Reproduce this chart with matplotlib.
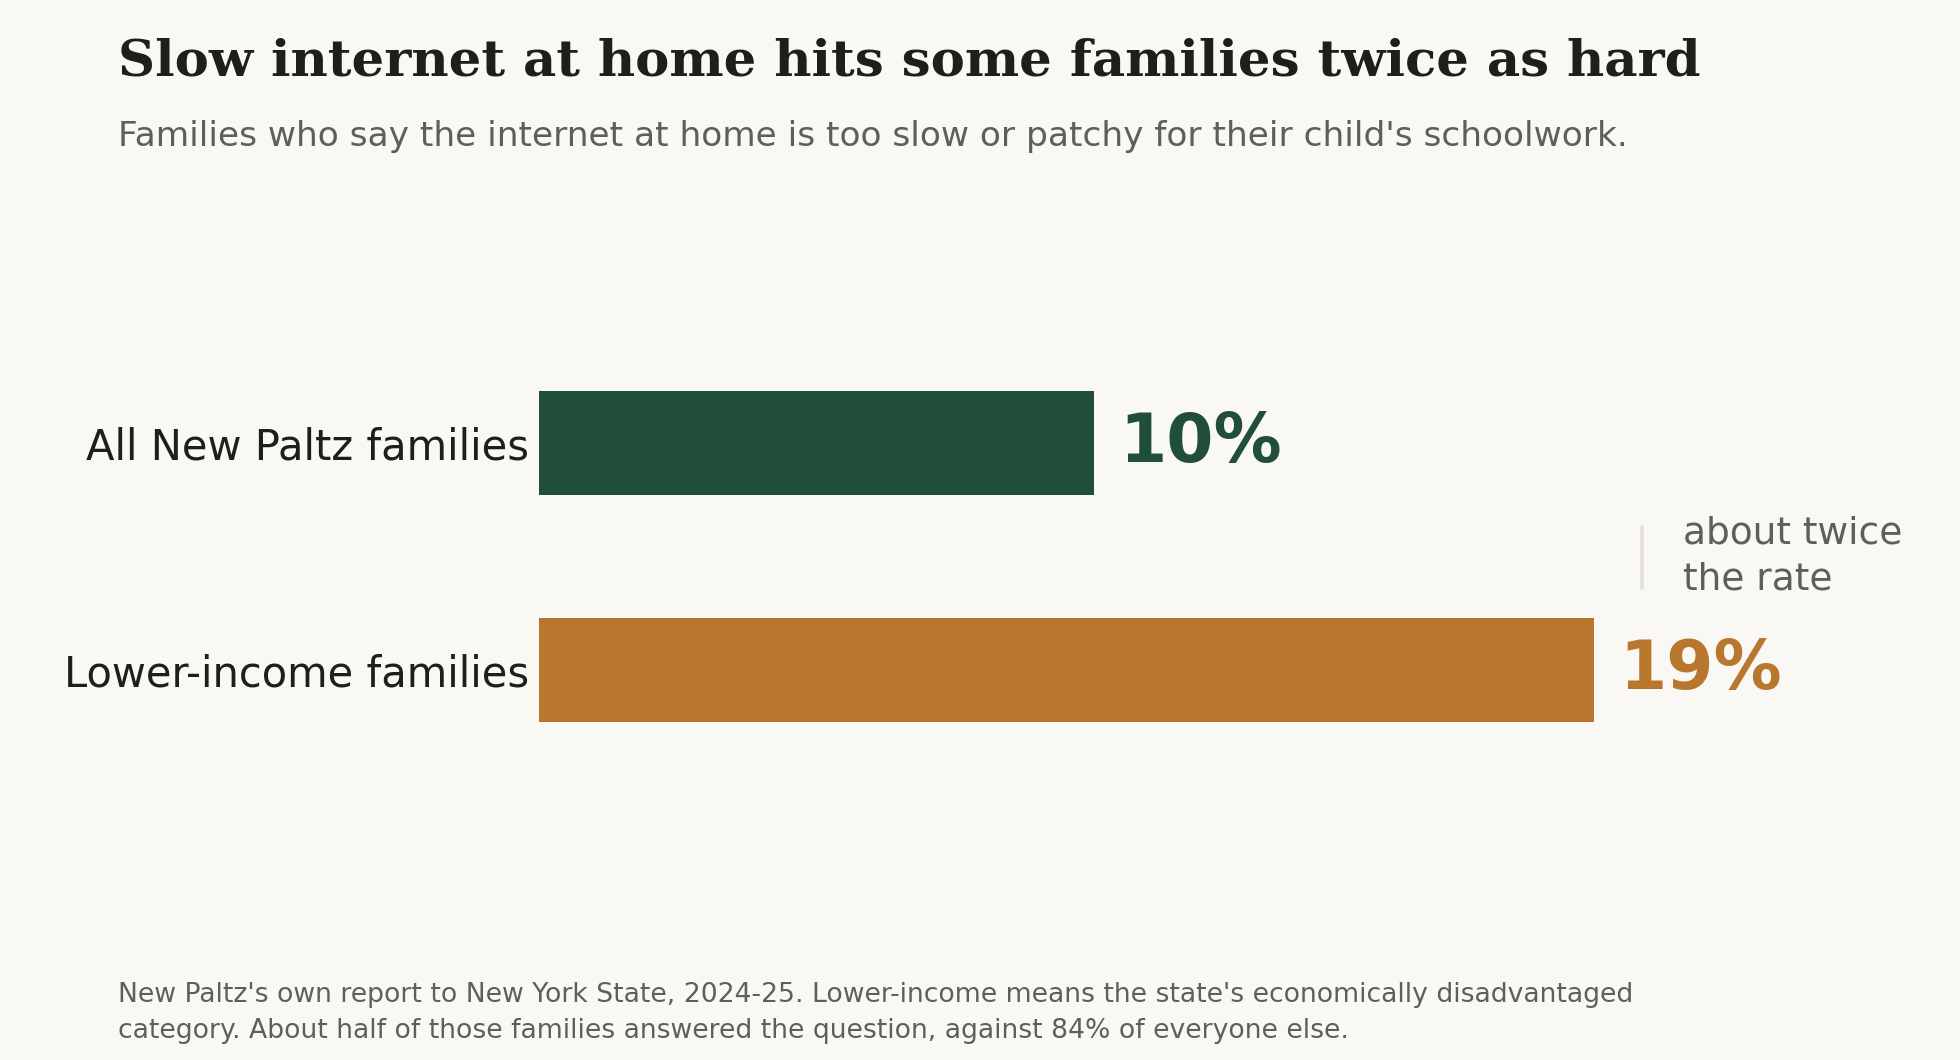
"""Slow home internet: share of families, all vs lower-income (New Paltz)."""

import matplotlib

matplotlib.use('Agg')
import matplotlib.pyplot as plt

categories = ['All New Paltz families', 'Lower-income families']
values = [10, 19]
value_labels = ['10%', '19%']
bar_colors = ['#204e3a', '#b8772c']

BG = '#f9f8f4'
INK = '#1c1f1c'
MUTED = '#5b605a'

TITLE = 'Slow internet at home hits some families twice as hard'
SUBTITLE = "Families who say the internet at home is too slow or patchy for their child's schoolwork."
NOTE = ("New Paltz's own report to New York State, 2024-25. Lower-income means the state's economically disadvantaged\n"
        "category. About half of those families answered the question, against 84% of everyone else.")


def main() -> None:
    fig = plt.figure(figsize=(9.8, 5.3), dpi=200, facecolor=BG)
    ax = fig.add_axes([0.275, 0.155, 0.68, 0.64])
    ax.set_facecolor(BG)

    y = list(range(len(categories)))
    ax.barh(y, values, height=0.46, color=bar_colors)
    ax.set_xlim(0, 24)
    ax.set_ylim(2, -1)

    ax.set_yticks(y)
    ax.set_yticklabels(categories, fontsize=15, color=INK)
    ax.tick_params(axis='y', length=0, pad=3.6)
    ax.set_xticks([])
    for side in ax.spines.values():
        side.set_visible(False)

    for yi, v, lab, c in zip(y, values, value_labels, bar_colors):
        ax.annotate(lab, xy=(v, yi), xytext=(9, 0), textcoords='offset points',
                    va='center', ha='left', fontsize=24.5, fontweight='bold', color=c)

    # bracket-ish marker between the two bars
    ax.plot([19.87, 19.87], [0.37, 0.64], color='#e2dfd3', lw=1.3,
            solid_capstyle='round')
    ax.text(20.6, 0.5, 'about twice\nthe rate', fontsize=13.5, color=MUTED,
            va='center', ha='left', linespacing=1.35)

    fig.text(0.06, 0.929, TITLE, fontsize=18.5, fontweight='bold', family='DejaVu Serif',
             color=INK, va='baseline')
    fig.text(0.06, 0.862, SUBTITLE, fontsize=12.4, color=MUTED, va='baseline')
    fig.text(0.06, 0.074, NOTE, fontsize=9.6, color=MUTED, va='top', linespacing=1.5)

    fig.savefig('out.png', dpi=200, facecolor=BG)


if __name__ == '__main__':
    main()
